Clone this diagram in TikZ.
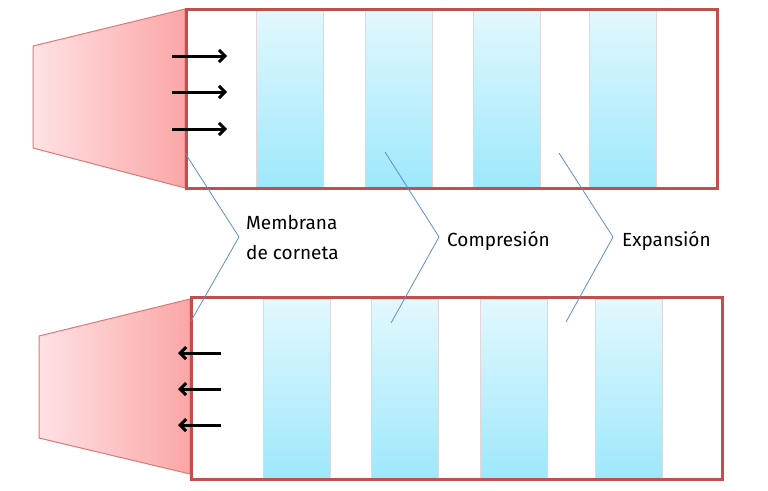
\documentclass[tikz,border=0pt]{standalone}
\usepackage{fontspec}
\setmainfont{Fira Sans}
\usetikzlibrary{arrows.meta}
\definecolor{boxred}{RGB}{192,80,77}
\definecolor{hornedge}{RGB}{220,120,118}
\definecolor{hornL}{RGB}{255,226,228}
\definecolor{hornR}{RGB}{251,166,166}
\definecolor{stripeT}{RGB}{226,248,253}
\definecolor{stripeB}{RGB}{158,232,252}
\definecolor{stripeedge}{RGB}{225,215,218}
\definecolor{callout}{RGB}{95,140,205}
\tikzset{
  horn/.style={draw=hornedge, line width=1pt, left color=hornL, right color=hornR},
  tube/.style={draw=boxred, line width=3pt},
  stripe/.style={draw=stripeedge, line width=0.8pt, top color=stripeT, bottom color=stripeB},
  push/.style={draw=black, line width=3pt, -{Straight Barb[length=6pt,width=12pt,line width=3pt]}},
  callline/.style={draw=callout, line width=0.8pt},
  lbl/.style={font=\fontsize{19}{30}\selectfont, align=left, anchor=west, inner sep=0pt}
}
\begin{document}
\begin{tikzpicture}[x=1pt,y=-1pt]
\useasboundingbox (0,0) rectangle (768,490);
% ---- top tube ----
\path[horn] (33,46) -- (185,9) -- (185,188) -- (33,148) -- cycle;
\foreach \xa/\xb in {256/323,365/432,473/540,589/656}
  \path[stripe] (\xa,10) rectangle (\xb,188);
\draw[tube] (186,9) rectangle (717,188);
\foreach \yy [count=\i] in {56,92,129}{
  \coordinate (ta\i) at (172,\yy);
  \coordinate (tb\i) at (227,\yy);
  \draw[push] (ta\i) -- (tb\i);
}
% ---- bottom tube ----
\path[horn] (39,336) -- (190,299) -- (190,474) -- (39,438) -- cycle;
\foreach \xa/\xb in {263/330,371/438,480/547,595/662}
  \path[stripe] (\xa,299) rectangle (\xb,478);
\draw[tube] (191,297) rectangle (722,479);
\foreach \yy [count=\i] in {353,389,425}{
  \coordinate (ba\i) at (221,\yy);
  \coordinate (bb\i) at (178,\yy);
  \draw[push] (ba\i) -- (bb\i);
}
% ---- labels ----
\node[lbl] (memb) at (246,237) {Membrana\\de corneta};
\node[lbl] (comp) at (447,241) {Compresión};
\node[lbl] (expa) at (622,241) {Expansión};
% ---- callout lines ----
\coordinate (m1) at (185,153); \coordinate (m2) at (239,237); \coordinate (m3) at (191,321);
\coordinate (c1) at (385,152); \coordinate (c2) at (439,237); \coordinate (c3) at (391,323);
\coordinate (e1) at (559,153); \coordinate (e2) at (613,237); \coordinate (e3) at (566,322);
\draw[callline] (m1) -- (m2) -- (m3);
\draw[callline] (c1) -- (c2) -- (c3);
\draw[callline] (e1) -- (e2) -- (e3);
\end{tikzpicture}
\end{document}
